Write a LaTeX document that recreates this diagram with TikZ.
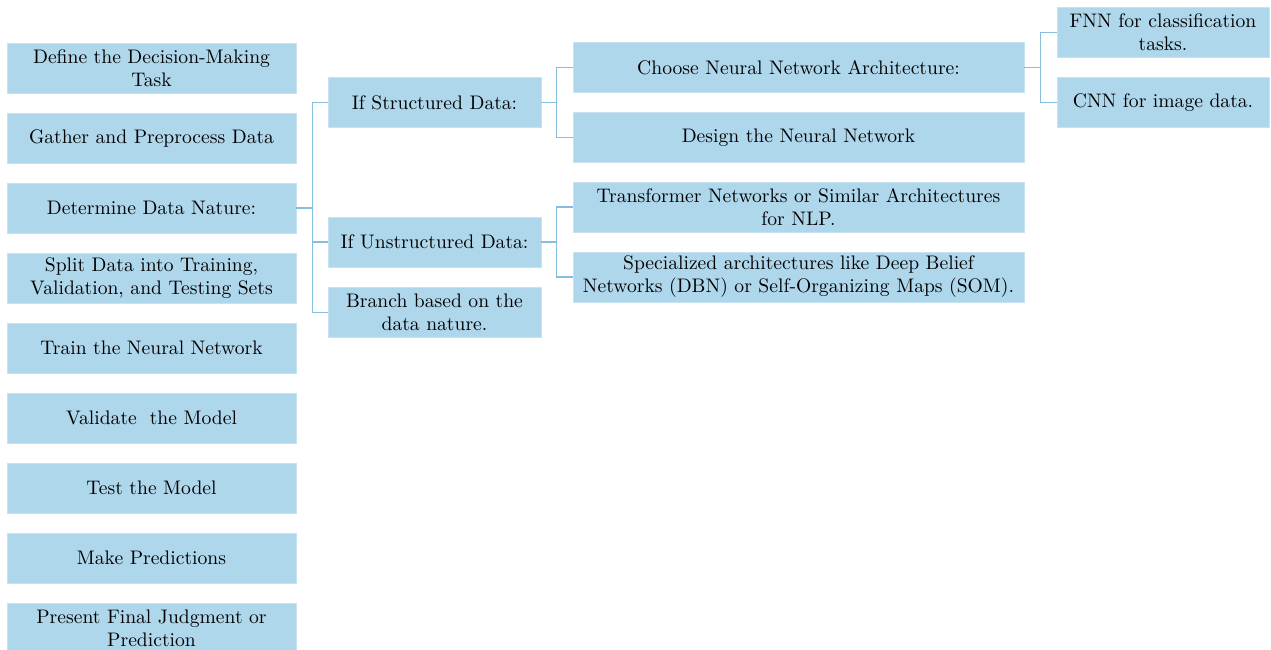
\documentclass[tikz,border=0pt]{standalone}
\usepackage{fontspec}
\setmainfont{lmroman10-regular.otf}
\usetikzlibrary{positioning}
\definecolor{boxblue}{HTML}{AFD7EC}
\definecolor{boxedge}{HTML}{C6E3F2}
\definecolor{linkblue}{HTML}{86BEDD}
\begin{document}
\begin{tikzpicture}[x=1pt,y=-1pt,
  box/.style={fill=boxblue,draw=boxedge,line width=0.8pt,minimum height=50pt,
    inner sep=0pt,align=center,font=\fontsize{19.6}{23}\selectfont,text=black},
  colA/.style={box,minimum width=289pt},
  colB/.style={box,minimum width=213pt},
  colC/.style={box,minimum width=451pt},
  colD/.style={box,minimum width=212pt},
  conn/.style={draw=linkblue,line width=1.3pt}]
\useasboundingbox (0,0) rectangle (1271,650);
\clip (0,0) rectangle (1271,650);
% left column
\node[colA] (a1) at (151.5,68) {Define the Decision-Making\\Task};
\node[colA] (a2) at (151.5,138) {Gather and Preprocess Data};
\node[colA] (a3) at (151.5,208) {Determine Data Nature:};
\node[colA] (a4) at (151.5,278) {Split Data into Training,\\Validation, and Testing Sets};
\node[colA] (a5) at (151.5,348) {Train the Neural Network};
\node[colA] (a6) at (151.5,418) {Validate\ \ the Model};
\node[colA] (a7) at (151.5,488) {Test the Model};
\node[colA] (a8) at (151.5,558) {Make Predictions};
\node[colA] (a9) at (151.5,628) {Present Final Judgment or\\Prediction};
% middle column
\node[colB] (b1) at (434.5,102.5) {If Structured Data:};
\node[colB] (b2) at (434.5,242) {If Unstructured Data:};
\node[colB] (b3) at (434.5,312.5) {Branch based on the\\data nature.};
% third column
\node[colC] (c1) at (798.5,67.5) {Choose Neural Network Architecture:};
\node[colC] (c2) at (798.5,137.5) {Design the Neural Network};
\node[colC] (c3) at (798.5,207) {Transformer Networks or Similar Architectures\\for NLP.};
\node[colC] (c4) at (798.5,277) {Specialized architectures like Deep Belief\\Networks (DBN) or Self-Organizing Maps (SOM).};
% fourth column
\node[colD] (d1) at (1163,32.5) {FNN for classification\\tasks.};
\node[colD] (d2) at (1163,102.5) {CNN for image data.};
% connectors
\foreach \c in {b1,b2,b3} \draw[conn] (a3.east) -| ([xshift=-15pt]\c.west) -- (\c.west);
\foreach \c in {c1,c2} \draw[conn] (b1.east) -| ([xshift=-16pt]\c.west) -- (\c.west);
\foreach \c in {c3,c4} \draw[conn] (b2.east) -| ([xshift=-16pt]\c.west) -- (\c.west);
\foreach \c in {d1,d2} \draw[conn] (c1.east) -| ([xshift=-16pt]\c.west) -- (\c.west);
\end{tikzpicture}
\end{document}
